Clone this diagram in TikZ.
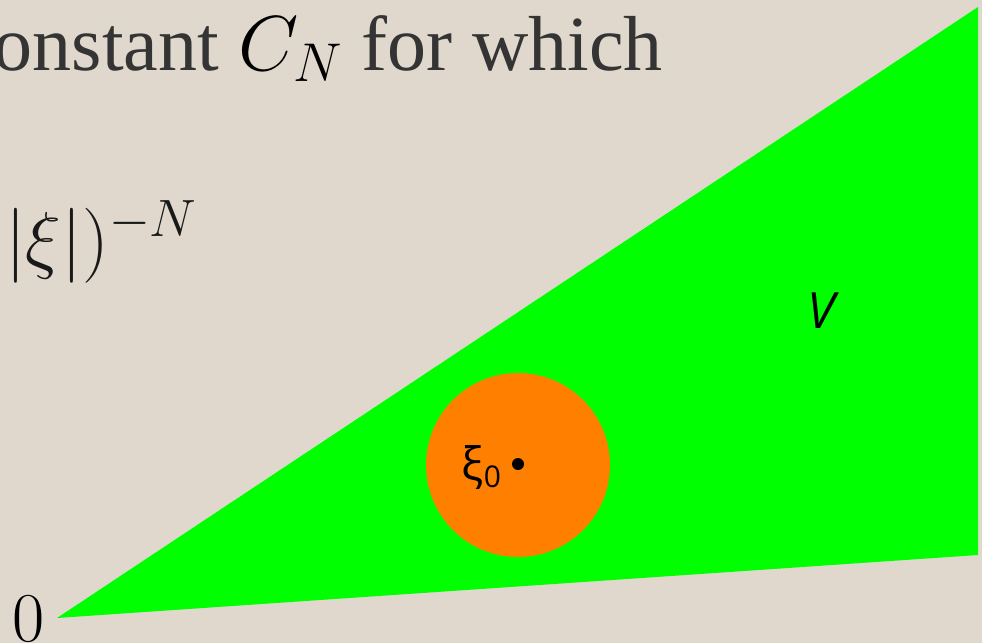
\RequirePackage{fix-cm}
\documentclass[tikz,border=0pt]{standalone}
\usepackage[no-math]{fontspec}
\newfontfamily\txtfont{Liberation Serif}
\newfontfamily\sansfont{Open Sans}
\definecolor{bg}{RGB}{224,216,204}
\definecolor{vgreen}{RGB}{0,255,0}
\definecolor{ballorange}{RGB}{255,128,0}
\definecolor{txtgray}{RGB}{52,52,52}
\begin{document}
\begin{tikzpicture}[x=1pt,y=1pt,
  lbl/.style={inner sep=0pt, outer sep=0pt}]
\useasboundingbox (0,0) rectangle (982,-643);
\fill[bg] (0,0) rectangle (982,-643);
% cone V
\coordinate (apex) at (57,-618);
\coordinate (tr) at (978,-7);
\coordinate (br) at (978,-555);
\fill[vgreen] (apex) -- (tr) -- (br) -- cycle;
% ball
\coordinate (c) at (518,-465);
\fill[ballorange] (c) circle (92pt);
\node[circle, fill=black, minimum size=12pt, inner sep=0pt] (p) at (518,-464) {};
\node[lbl, anchor=base east, font=\sansfont\fontsize{46}{50}\selectfont] (xi) at (501,-480) {ξ\raisebox{-0.17em}{\fontsize{30}{32}\selectfont 0}};
\node[lbl, font=\sansfont\itshape\fontsize{50}{54}\selectfont] (V) at (821,-311) {V};
% texts
\node[lbl, anchor=base east, text=txtgray, font=\txtfont\fontsize{78}{82}\selectfont] (t1) at (663,-70) {onstant \textcolor{black}{$C_N$} for which};
\node[lbl, anchor=base east, text=black!90, font=\fontsize{75}{80}\selectfont] (t2) at (197,-264) {$|\xi|)^{-N}$};
\node[lbl, anchor=base, text=black, font=\fontsize{70}{74}\selectfont] (zero) at (29,-641) {$0$};
\end{tikzpicture}
\end{document}
